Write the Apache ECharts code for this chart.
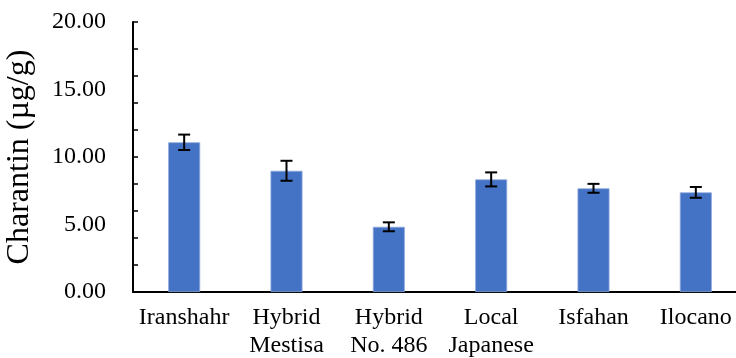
<!DOCTYPE html>
<html>
<head>
<meta charset="utf-8">
<script src="https://cdn.jsdelivr.net/npm/echarts@6/dist/echarts.min.js"></script>
<style>html,body{margin:0;padding:0;background:#fff}#c{width:736px;height:358px}</style>
</head>
<body>
<div id="c"></div>
<script>
var categories = ['Iranshahr', 'Hybrid\nMestisa', 'Hybrid\nNo. 486', 'Local\nJapanese', 'Isfahan', 'Ilocano'];
var means = [11.09, 8.98, 4.83, 8.34, 7.68, 7.38];
var errors = [0.57, 0.74, 0.33, 0.52, 0.33, 0.40];
var yTickLabels = ['0.00', '5.00', '10.00', '15.00', '20.00'];

var font = '"Liberation Serif", "Times New Roman", serif';
var chart = echarts.init(document.getElementById('c'), null, {renderer: 'canvas'});
var errData = means.map(function (m, i) { return [i, m - errors[i], m + errors[i]]; });

chart.setOption({
  animation: false,
  backgroundColor: '#fff',
  grid: {left: 133, right: -11, top: 22, bottom: 66, containLabel: false, outerBoundsMode: 'none'},
  xAxis: {
    type: 'category',
    data: categories,
    axisLine: {lineStyle: {color: '#000', width: 2}},
    axisTick: {show: false},
    axisLabel: {color: '#000', fontFamily: font, fontSize: 24, lineHeight: 28, margin: 12, interval: 0}
  },
  yAxis: [{
    type: 'value', min: 0, max: 20, interval: 5,
    axisLine: {show: true, lineStyle: {color: '#000', width: 2}},
    axisTick: {show: false},
    splitLine: {show: false},
    axisLabel: {color: '#000', fontFamily: font, fontSize: 24, margin: 27,
      formatter: function (v) { return yTickLabels[Math.round(v / 5)]; }},
    name: 'Charantin (µg/g)',
    nameLocation: 'middle',
    nameGap: 97,
    nameMoveOverlap: false,
    nameTextStyle: {color: '#000', fontFamily: font, fontSize: 32}
  }, {
    type: 'value', min: 0, max: 20, interval: 2, position: 'left',
    axisLine: {show: false},
    axisTick: {show: true, inside: true, length: 5, lineStyle: {color: '#000', width: 1.5}},
    axisLabel: {show: false},
    splitLine: {show: false}
  }],
  series: [{
    type: 'bar',
    data: means,
    barWidth: 32,
    itemStyle: {color: '#4472C4', borderColor: '#8FAADC', borderWidth: 0.8},
    z: 2
  }, {
    type: 'custom',
    data: errData,
    z: 5,
    renderItem: function (params, api) {
      var x = api.value(0);
      var lo = api.coord([x, api.value(1)]);
      var hi = api.coord([x, api.value(2)]);
      var hw = 6;
      var st = {stroke: '#000', lineWidth: 2};
      return {type: 'group', children: [
        {type: 'line', shape: {x1: lo[0], y1: lo[1], x2: hi[0], y2: hi[1]}, style: st},
        {type: 'line', shape: {x1: lo[0] - hw, y1: lo[1], x2: lo[0] + hw, y2: lo[1]}, style: st},
        {type: 'line', shape: {x1: hi[0] - hw, y1: hi[1], x2: hi[0] + hw, y2: hi[1]}, style: st}
      ]};
    }
  }]
});
</script>
</body>
</html>
